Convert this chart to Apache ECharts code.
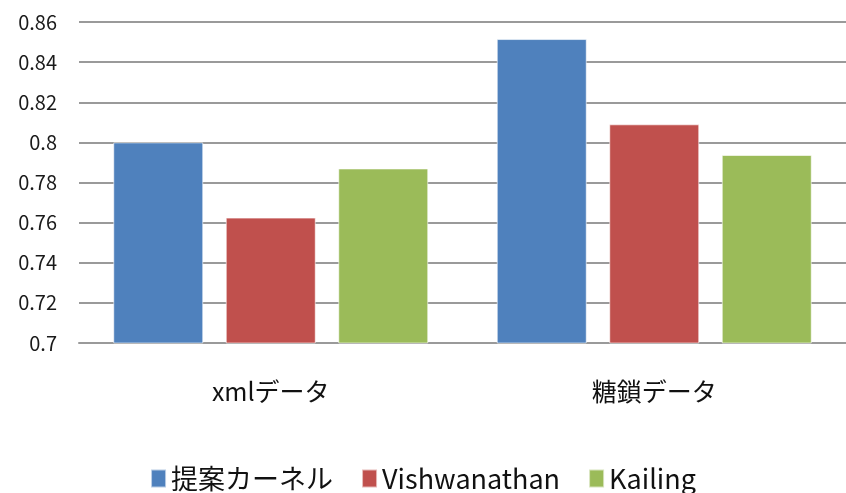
<!DOCTYPE html>
<html>
<head>
<meta charset="utf-8">
<script src="https://cdn.jsdelivr.net/npm/echarts@6/dist/echarts.min.js"></script>
<style>
  html, body { margin: 0; padding: 0; background: #fff; }
  #chart { width: 846px; height: 493px; }
</style>
</head>
<body>
<div id="chart"></div>
<script>
// data
const categories = ['xmlデータ', '糖鎖データ']
const seriesNames = ['提案カーネル', 'Vishwanathan', 'Kailing']
const proposed = [0.800, 0.8515]
const vishwanathan = [0.7625, 0.809]
const kailing = [0.787, 0.7937]
const colors = ['#4F81BD', '#C0504D', '#9BBB59']

const font = '"Noto Sans CJK JP", "Noto Sans", sans-serif'
const myChart = echarts.init(document.getElementById('chart'))

const makeBar = (name, data, idx) => ({
  name: name,
  type: 'bar',
  data: data,
  barWidth: 90,
  barGap: '25%',
  itemStyle: {
    color: colors[idx],
    borderColor: 'rgba(255,255,255,0.6)',
    borderWidth: 1
  }
})

const option = {
  animation: false,
  textStyle: { fontFamily: font },
  grid: {
    left: 79,
    right: 0,
    top: 22,
    bottom: 150,
    containLabel: false
  },
  legend: {
    data: seriesNames,
    bottom: -4,
    left: 'center',
    icon: 'rect',
    itemWidth: 15,
    itemHeight: 18,
    itemGap: 28,
    textStyle: { fontSize: 27, color: '#111', fontFamily: font }
  },
  xAxis: {
    type: 'category',
    data: categories,
    axisTick: { show: false },
    axisLine: { lineStyle: { color: '#9a9a9a', width: 2 } },
    axisLabel: { fontSize: 25, color: '#111', margin: 36, fontFamily: font }
  },
  yAxis: {
    type: 'value',
    min: 0.7,
    max: 0.86,
    interval: 0.02,
    axisLine: { show: false },
    axisTick: { show: false },
    axisLabel: {
      fontSize: 20,
      color: '#1a1a1a',
      margin: 22,
      formatter: (v) => String(Number(v.toFixed(2)))
    },
    splitLine: { lineStyle: { color: '#9a9a9a', width: 2 } }
  },
  series: [
    makeBar(seriesNames[0], proposed, 0),
    makeBar(seriesNames[1], vishwanathan, 1),
    makeBar(seriesNames[2], kailing, 2)
  ]
}
myChart.setOption(option)
</script>
</body>
</html>
